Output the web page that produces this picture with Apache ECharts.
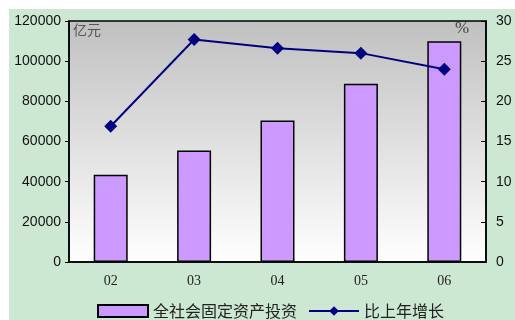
<!DOCTYPE html>
<html>
<head>
<meta charset="utf-8">
<script src="https://cdn.jsdelivr.net/npm/echarts@6/dist/echarts.min.js"></script>
<style>
  html, body { margin: 0; padding: 0; background: #fff; }
  #bg { position: absolute; left: 9px; top: 9px; width: 506px; height: 311px; background: #cde8d2; }
  #chart { position: absolute; left: 0; top: 0; width: 515px; height: 320px; }
</style>
</head>
<body>
<div id="bg"></div>
<div id="chart"></div>
<script>
// years (two-digit labels)
const years = ['02', '03', '04', '05', '06']
// 全社会固定资产投资, 亿元
const investment = [43500, 55567, 70477, 88774, 109870]
// 比上年增长, %
const growth = [16.9, 27.7, 26.6, 26.0, 24.0]

const chart = echarts.init(document.getElementById('chart'), null, { renderer: 'canvas' })

chart.setOption({
  animation: false,
  grid: {
    left: 69, right: 29, top: 21, bottom: 58,
    show: true,
    borderColor: '#000',
    borderWidth: 1.5,
    backgroundColor: new echarts.graphic.LinearGradient(0, 0, 0, 1, [
      { offset: 0, color: '#c0c0c0' },
      { offset: 1, color: '#ffffff' }
    ])
  },
  graphic: [
    {
      type: 'text', left: 73, top: 23,
      style: { text: '亿元', fill: '#555', fontSize: 14, fontFamily: 'Noto Sans CJK SC' }
    },
    {
      type: 'text', left: 455, top: 20,
      style: { text: '%', fill: '#444', fontSize: 17, fontFamily: 'Liberation Serif' }
    }
  ],
  legend: {
    left: 92,
    top: 298,
    itemWidth: 50,
    itemHeight: 12,
    itemGap: 11,
    textStyle: { color: '#222', fontSize: 16, fontFamily: 'Noto Sans CJK SC' },
    data: [
      { name: '全社会固定资产投资', icon: 'rect' },
      { name: '比上年增长' }
    ]
  },
  xAxis: {
    type: 'category',
    data: years,
    axisLine: { lineStyle: { color: '#000', width: 1.5 } },
    axisTick: { inside: true, length: 5, lineStyle: { color: '#000' } },
    axisLabel: { color: '#222', fontSize: 14, fontFamily: 'Liberation Serif', margin: 12 }
  },
  yAxis: [
    {
      type: 'value',
      min: 0, max: 120000, interval: 20000,
      splitLine: { show: false },
      axisLine: { show: true, lineStyle: { color: '#000', width: 1.5 } },
      axisTick: { show: true, length: 4, lineStyle: { color: '#000' } },
      axisLabel: {
        color: '#111', fontSize: 14, fontFamily: 'Liberation Sans', margin: 8,
        formatter: v => String(v)
      }
    },
    {
      type: 'value',
      min: 0, max: 30, interval: 5,
      splitLine: { show: false },
      axisLine: { show: true, lineStyle: { color: '#000', width: 1.5 } },
      axisTick: { show: true, inside: true, length: 5, lineStyle: { color: '#000' } },
      axisLabel: { color: '#111', fontSize: 14, fontFamily: 'Liberation Sans', margin: 10 }
    }
  ],
  series: [
    {
      name: '全社会固定资产投资',
      type: 'bar',
      data: investment,
      barWidth: 34,
      itemStyle: { color: '#cc99ff', borderColor: '#000', borderWidth: 1.5 }
    },
    {
      name: '比上年增长',
      type: 'line',
      yAxisIndex: 1,
      data: growth,
      symbol: 'diamond',
      symbolSize: 13,
      lineStyle: { color: '#000080', width: 2 },
      itemStyle: { color: '#000080' }
    }
  ]
})
</script>
</body>
</html>
